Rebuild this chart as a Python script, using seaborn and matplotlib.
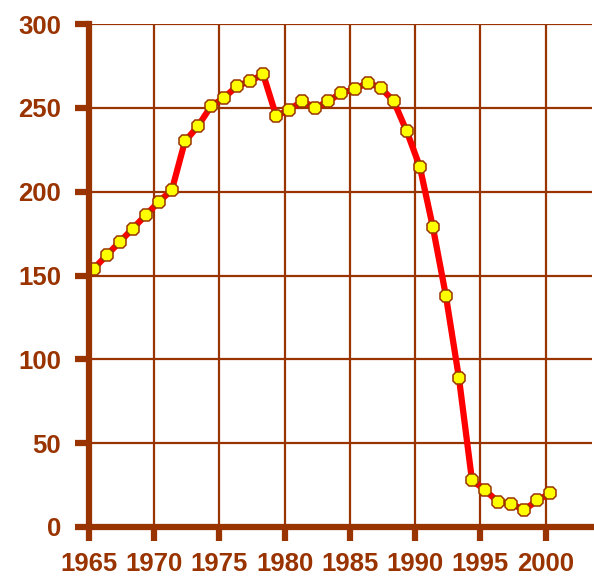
import numpy as np
import pandas as pd
import seaborn as sns
import matplotlib as mpl
import matplotlib.pyplot as plt

mpl.use('Agg')

# yearly values
years = list(range(1965, 2001))
values = [154, 162, 170, 178, 186, 194, 201, 230, 239, 251,
          256, 263, 266, 270, 245, 249, 254, 250, 254, 259,
          261, 265, 262, 254, 236, 215, 179, 138, 89, 28,
          22, 15, 14, 10, 16, 20]
xticks = [1965, 1970, 1975, 1980, 1985, 1990, 1995, 2000]
yticks = [0, 50, 100, 150, 200, 250, 300]

BROWN = '#993300'

df = pd.DataFrame({'year': np.array(years) + 0.35, 'value': values})

sns.set_style('white')
plt.rcParams['font.family'] = ['Liberation Sans', 'DejaVu Sans']

fig = plt.figure(figsize=(5.94, 5.78), dpi=100)
ax = fig.add_axes([89 / 594, 51 / 578, 503 / 594, 503 / 578])

for x in xticks[1:]:
    ax.axvline(x, color=BROWN, lw=1.6, zorder=1)
for y in yticks[1:]:
    ax.axhline(y, color=BROWN, lw=1.6, zorder=1)

sns.lineplot(data=df, x='year', y='value', ax=ax, color='red', linewidth=4.5,
             marker='8', markersize=10, markerfacecolor='yellow',
             markeredgecolor=BROWN, markeredgewidth=1.1, zorder=3, clip_on=False)

ax.set_xlim(1965, 2003.55)
ax.set_ylim(0, 300)
ax.set_xticks(xticks)
ax.set_yticks(yticks)
ax.set_xlabel('')
ax.set_ylabel('')

for s in ['top', 'right']:
    ax.spines[s].set_visible(False)
for s in ['left', 'bottom']:
    ax.spines[s].set_color(BROWN)
    ax.spines[s].set_linewidth(4.5)
    ax.spines[s].set_zorder(4)

ax.tick_params(axis='both', direction='out', length=10, width=4.5, color=BROWN,
               labelcolor=BROWN, labelsize=18.5, bottom=True, left=True)
ax.tick_params(axis='y', pad=10)
ax.tick_params(axis='x', pad=8)
for lab in ax.get_xticklabels() + ax.get_yticklabels():
    lab.set_fontweight('bold')

fig.savefig('out.png', dpi=100)
plt.close()
